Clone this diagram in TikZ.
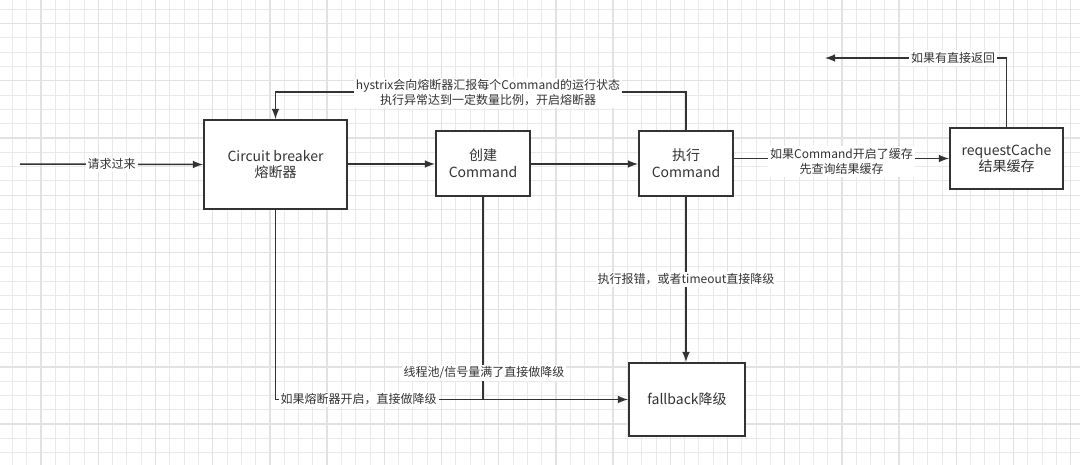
\documentclass[tikz,border=0pt]{standalone}
\usepackage{fontspec}
\setmainfont{Noto Sans CJK SC}
\definecolor{ink}{HTML}{333333}
\definecolor{gridgray}{HTML}{E9E9E9}
\definecolor{gridgrayb}{HTML}{E2E2E2}
\begin{document}
\begin{tikzpicture}[>=latex, x=0.5pt, y=-0.5pt,
    box/.style={draw=ink, line width=1pt, fill=white, text=ink, align=center,
        font=\fontsize{7}{8.4}\selectfont, inner sep=0pt},
    lbl/.style={fill=white, text=ink, align=center, inner sep=1pt,
        font=\fontsize{6}{7.5}\selectfont},
    conn/.style={draw=ink, line width=0.75pt},
    gridline/.style={draw=gridgray, line width=0.5pt},
    gridlineb/.style={draw=gridgrayb, line width=0.7pt}]

    \useasboundingbox[fill=white] (0,0) rectangle (1080,465);

    % grid
    \foreach \i in {0,...,74} \draw[gridline] (12.5+14.3*\i,0) -- (12.5+14.3*\i,465);
    \foreach \j in {0,...,31} \draw[gridline] (0,9.3+14.3*\j) -- (1080,9.3+14.3*\j);
    \foreach \i in {2,6,...,74} \draw[gridlineb] (12.5+14.3*\i,0) -- (12.5+14.3*\i,465);
    \foreach \j in {1,5,...,31} \draw[gridlineb] (0,9.3+14.3*\j) -- (1080,9.3+14.3*\j);

    % boxes
    \node[box, minimum width=71.5pt, minimum height=44.5pt] (cb) at (275.5,164.5) {Circuit breaker\\熔断器};
    \node[box, minimum width=47pt, minimum height=32.5pt] (create) at (483,163.5) {创建\\Command};
    \node[box, minimum width=47pt, minimum height=32.5pt] (exec) at (686,163.5) {执行\\Command};
    \node[box, minimum width=56.5pt, minimum height=30.5pt] (cache) at (1006.5,158.5) {requestCache\\结果缓存};
    \node[box, minimum width=58pt, minimum height=36.5pt] (fallback) at (687,399.5) {fallback降级};

    \coordinate (start) at (20,164);
    \coordinate (fbtop) at (480,92);
    \coordinate (ret) at (825,58);

    % main flow
    \draw[conn,->] (start) -- (cb.west) node[lbl, midway] {请求过来};
    \draw[conn,->] (cb.east |- 0,164) -- (create.west |- 0,164);
    \draw[conn,->] (create.east |- 0,164) -- (exec.west |- 0,164);
    \draw[conn,->] (exec.east |- cache.west) -- (cache.west)
        node[lbl, midway, yshift=-1.5pt] {如果Command开启了缓存\\先查询结果缓存};

    % feedback
    \draw[conn,->] (exec.north) |- (fbtop) -| (cb.north);
    \node[lbl] (fbtext) at (488,93) {hystrix会向熔断器汇报每个Command的运行状态\\执行异常达到一定数量比例，开启熔断器};

    % cache return
    \draw[conn,->] (cache.north) |- (ret);
    \node[lbl] (rettext) at (953,58) {如果有直接返回};

    % fallback
    \draw[conn,->] (cb.south) |- (fallback.west)
        node[lbl, pos=0.618] {如果熔断器开启，直接做降级};
    \draw[conn] (create.south) -- (create.south |- fallback.west);
    \node[lbl] (pooltext) at (484,373) {线程池/信号量满了直接做降级};
    \draw[conn,->] (exec.south) -- (exec.south |- fallback.north)
        node[lbl, midway] {执行报错，或者timeout直接降级};

\end{tikzpicture}
\end{document}
